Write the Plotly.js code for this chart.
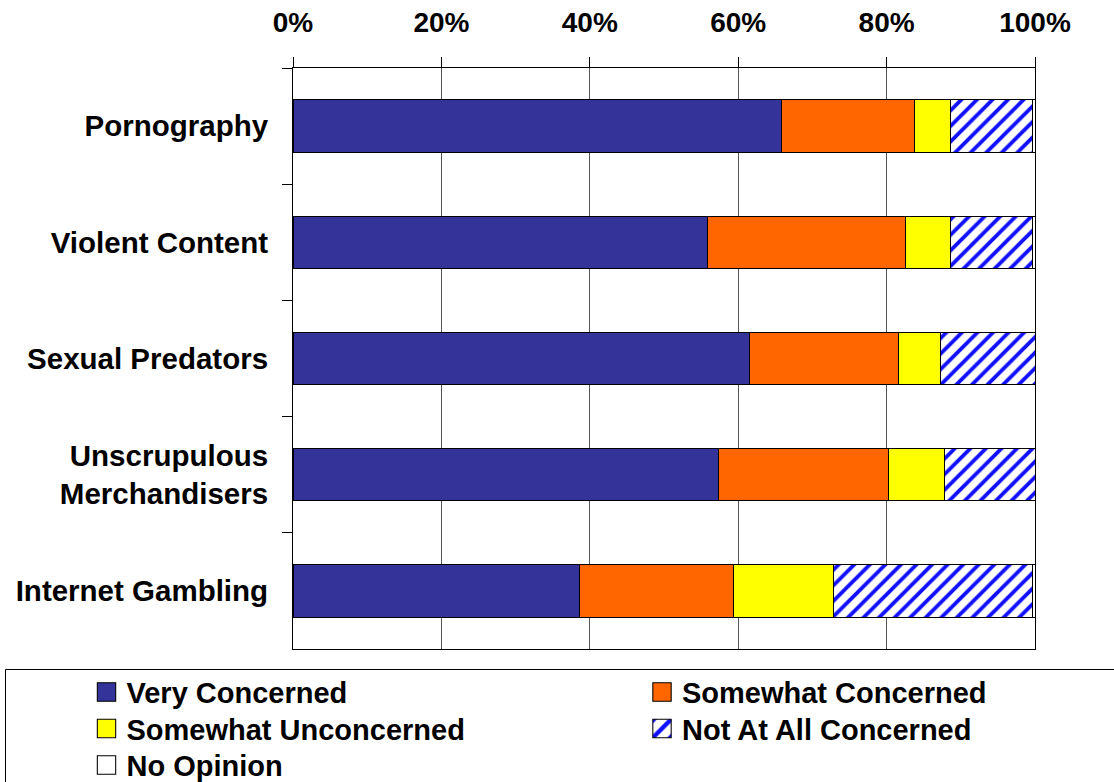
<!DOCTYPE html>
<html>
<head>
<meta charset="utf-8">
<script src="https://cdn.plot.ly/plotly-3.0.1.min.js"></script>
<style>
  html, body { margin: 0; padding: 0; background: #ffffff; }
  #chart { width: 1114px; height: 782px; }
</style>
</head>
<body>
<div id="chart"></div>
<script>
// ---- Data ----
const categories = ["Pornography", "Violent Content", "Sexual Predators", "Unscrupulous<br>Merchandisers", "Internet Gambling"];
const seriesNames = ["Very Concerned", "Somewhat Concerned", "Somewhat Unconcerned", "Not At All Concerned", "No Opinion"];
const veryConcerned        = [65.8, 55.8, 61.5, 57.4, 38.6];
const somewhatConcerned    = [17.9, 26.8, 20.1, 22.8, 20.7];
const somewhatUnconcerned  = [4.9, 6.0, 5.7, 7.6, 13.5];
const notAtAllConcerned    = [11.1, 11.1, 12.7, 12.2, 26.9];
const noOpinion            = [0.3, 0.3, 0.0, 0.0, 0.3];
const xTickValues = [0, 20, 40, 60, 80, 100];
const xTickLabels = ["0%", "20%", "40%", "60%", "80%", "100%"];

const FONT = "Liberation Sans, Arial, Helvetica, sans-serif";
const lineStyle = { color: "#000000", width: 1 };

function barTrace(name, values, color, legendId, pattern) {
  const marker = { color: color, line: lineStyle };
  if (pattern) marker.pattern = pattern;
  return {
    type: "bar",
    orientation: "h",
    name: name,
    y: categories,
    x: values,
    marker: marker,
    legend: legendId,
    hoverinfo: "name+x"
  };
}

const data = [
  barTrace(seriesNames[0], veryConcerned, "#333399", "legend"),
  barTrace(seriesNames[1], somewhatConcerned, "#FF6600", "legend2"),
  barTrace(seriesNames[2], somewhatUnconcerned, "#FFFF00", "legend3"),
  barTrace(seriesNames[3], notAtAllConcerned, "#FFFFFF", "legend4",
    { shape: "/", fgcolor: "#1010FF", bgcolor: "#FFFFFF", size: 11, solidity: 0.35 }),
  barTrace(seriesNames[4], noOpinion, "#FFFFFF", "legend5")
];

// plot area in pixels: x 293..1035, y 68..649
const PL = 293, PW = 742, PT = 68, PH = 581;
const LEGEND_FONT_SIZE = 29;
const itemH = LEGEND_FONT_SIZE * 1.3 + 3;
function legendAt(markerCenterX, rowCenterY) {
  return {
    orientation: "v",
    x: (markerCenterX - 20 - PL) / PW, xanchor: "left",
    y: (PT + PH - (rowCenterY - 5 - itemH / 2)) / PH, yanchor: "top",
    font: { family: FONT, size: LEGEND_FONT_SIZE, color: "#000000", weight: "bold" },
    bgcolor: "rgba(0,0,0,0)",
    borderwidth: 0,
    itemclick: false, itemdoubleclick: false
  };
}

const layout = {
  width: 1114,
  height: 782,
  margin: { l: PL, r: 1114 - PL - PW, t: PT, b: 782 - PT - PH, autoexpand: false },
  paper_bgcolor: "#ffffff",
  plot_bgcolor: "#ffffff",
  barmode: "stack",
  bargap: 0.55,
  showlegend: true,
  font: { family: FONT, color: "#000000" },
  xaxis: {
    side: "top",
    range: [0, 100],
    tickvals: xTickValues,
    ticktext: xTickLabels,
    ticks: "outside",
    ticklen: 10,
    tickcolor: "#000000",
    ticklabelstandoff: 14,
    tickfont: { family: FONT, size: 28, color: "#000000", weight: "bold" },
    showgrid: true,
    gridcolor: "#555555",
    gridwidth: 1,
    showline: true,
    linecolor: "#000000",
    linewidth: 1,
    mirror: true,
    zeroline: false,
    fixedrange: true
  },
  yaxis: {
    type: "category",
    autorange: "reversed",
    ticks: "outside",
    tickson: "boundaries",
    ticklen: 10,
    tickcolor: "#000000",
    ticklabelstandoff: 18,
    tickfont: { family: FONT, size: 29.5, color: "#000000", weight: "bold" },
    showgrid: false,
    showline: true,
    linecolor: "#000000",
    linewidth: 1,
    mirror: true,
    zeroline: false,
    fixedrange: true
  },
  legend:  legendAt(106.5, 692),
  legend2: legendAt(662, 692),
  legend3: legendAt(106.5, 728.5),
  legend4: legendAt(662, 728.5),
  legend5: legendAt(106.5, 765),
  shapes: [
    {
      type: "rect", xref: "paper", yref: "paper",
      x0: (5.5 - PL) / PW, x1: 1.2,
      y0: -0.3, y1: (PT + PH - 669.5) / PH,
      line: { color: "#000000", width: 1 },
      fillcolor: "rgba(0,0,0,0)",
      layer: "below"
    }
  ]
};

Plotly.newPlot("chart", data, layout, { displayModeBar: false, staticPlot: true }).then(function (gd) {
  // enlarge legend swatches to match the reference's bigger squares
  gd.querySelectorAll(".legendpoints path").forEach(function (p) {
    const t = p.getAttribute("transform") || "";
    p.setAttribute("transform", t + " scale(1.53)");
    p.style.strokeWidth = "0.7px";
  });
});
</script>
</body>
</html>
